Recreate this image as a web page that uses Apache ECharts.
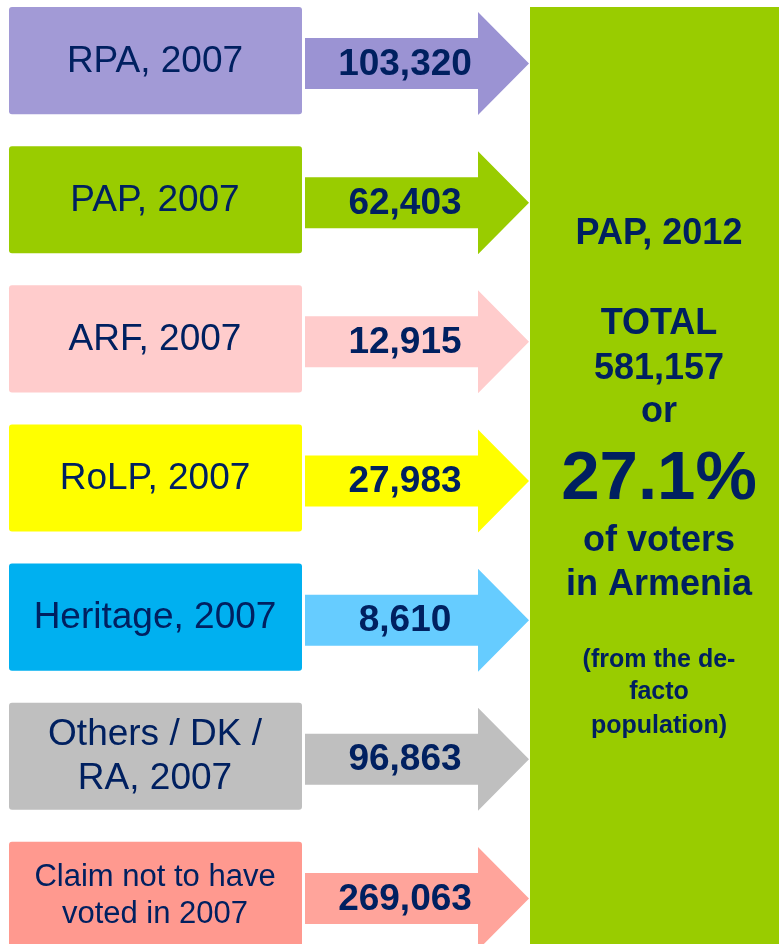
<!DOCTYPE html>
<html>
<head>
<meta charset="utf-8">
<script src="https://cdn.jsdelivr.net/npm/echarts@6/dist/echarts.min.js"></script>
<style>
  html, body { margin: 0; padding: 0; background: #fff; }
  #chart { width: 779px; height: 944px; }
</style>
</head>
<body>
<div id="chart"></div>
<script>
// where PAP's 2012 voters came from (2007 vote)
const sources2007 = [
  'RPA, 2007',
  'PAP, 2007',
  'ARF, 2007',
  'RoLP, 2007',
  'Heritage, 2007',
  'Others / DK /\nRA, 2007',
  'Claim not to have\nvoted in 2007'
];
const voters2012 = [103320, 62403, 12915, 27983, 8610, 96863, 269063];
const shareOfVoters = 27.1;

const boxColors = ['#A29AD6', '#99CC00', '#FFCCCC', '#FFFF00', '#00B0F0', '#BFBFBF', '#FF998F'];
const arrowColors = ['#9B93D3', '#99CC00', '#FFCCCC', '#FFFF00', '#66CCFF', '#BFBFBF', '#FFA49B'];

const NAVY = '#002060';
const FONT = '"Liberation Sans", Arial, sans-serif';
const fmt = (v) => v.toLocaleString('en-US');
const total = voters2012.reduce((a, b) => a + b, 0);

const chart = echarts.init(document.getElementById('chart'));

function renderRow(params, api) {
  const i = api.value(1);
  const cy = api.coord([0, i])[1];
  const band = api.size([0, 1])[1];
  const boxH = band * 0.77;
  const ay = cy + 3;
  const x0 = 305, xh = 478, tip = 529;
  const shaftH = 51, headH = 103;
  const small = sources2007[i].startsWith('Claim');
  return {
    type: 'group',
    children: [
      {
        type: 'rect',
        shape: { x: 9, y: cy - boxH / 2, width: 293, height: boxH, r: 3 },
        style: { fill: boxColors[i] }
      },
      {
        type: 'text',
        style: {
          text: sources2007[i],
          x: 155, y: cy + 1,
          align: 'center', verticalAlign: 'middle',
          fill: NAVY,
          font: (small ? '31px ' : '37px ') + FONT,
          lineHeight: small ? 37 : 44
        }
      },
      {
        type: 'polygon',
        shape: {
          points: [
            [x0, ay - shaftH / 2], [xh, ay - shaftH / 2], [xh, ay - headH / 2],
            [tip, ay], [xh, ay + headH / 2], [xh, ay + shaftH / 2], [x0, ay + shaftH / 2]
          ]
        },
        style: { fill: arrowColors[i] }
      },
      {
        type: 'text',
        style: {
          text: fmt(api.value(2)),
          x: x0 + 100, y: ay + 1,
          align: 'center', verticalAlign: 'middle',
          fill: NAVY,
          font: 'bold 37px ' + FONT
        }
      }
    ]
  };
}

const panelLines = [
  { text: 'PAP, 2012', y: 234, size: 36 },
  { text: 'TOTAL', y: 324, size: 36 },
  { text: fmt(total), y: 369, size: 36 },
  { text: 'or', y: 412, size: 36 },
  { text: shareOfVoters.toFixed(1) + '%', y: 480, size: 69 },
  { text: 'of voters', y: 541, size: 36 },
  { text: 'in Armenia', y: 585, size: 36 },
  { text: '(from the de-', y: 660, size: 25 },
  { text: 'facto', y: 692, size: 25 },
  { text: 'population)', y: 726, size: 25 }
];

chart.setOption({
  animation: false,
  grid: { left: 0, right: 0, top: -9, height: 974, outerBoundsMode: 'none' },
  xAxis: { type: 'value', min: 0, max: 1, show: false },
  yAxis: { type: 'category', data: sources2007, inverse: true, show: false },
  graphic: [
    {
      type: 'rect',
      z: 0,
      shape: { x: 530, y: 7, width: 260, height: 950 },
      style: { fill: '#99CC00' }
    },
    ...panelLines.map((l) => ({
      type: 'text',
      z: 1,
      style: {
        text: l.text,
        x: 659, y: l.y,
        align: 'center', verticalAlign: 'middle',
        fill: NAVY,
        font: 'bold ' + l.size + 'px ' + FONT
      }
    }))
  ],
  series: [
    {
      type: 'custom',
      clip: false,
      renderItem: renderRow,
      encode: { x: 0, y: 1 },
      data: voters2012.map((v, i) => [0, i, v])
    }
  ]
});
</script>
</body>
</html>
